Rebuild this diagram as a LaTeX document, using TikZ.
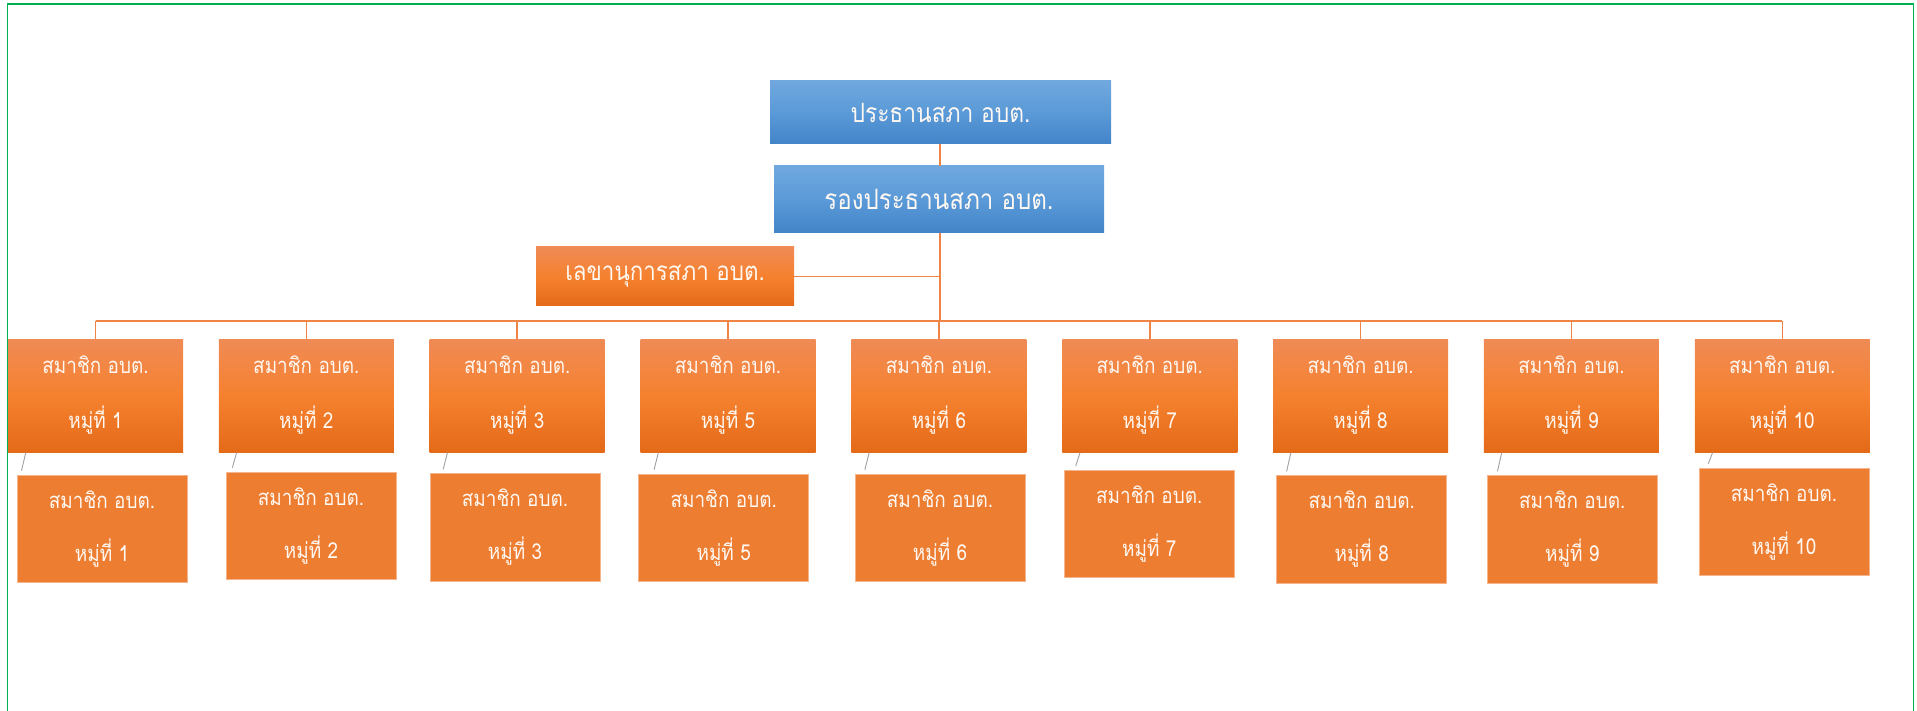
\documentclass[tikz,border=0pt]{standalone}
\usepackage{fontspec}
\newfontfamily\thaifont[Script=Thai, FakeStretch=0.86]{Loma}
\usetikzlibrary{calc}
\definecolor{blueT}{HTML}{70A8DE}
\definecolor{blueM}{HTML}{5A9AD8}
\definecolor{blueB}{HTML}{4384C8}
\definecolor{orT}{HTML}{F08B56}
\definecolor{orM}{HTML}{F5812F}
\definecolor{orB}{HTML}{E46A18}
\definecolor{orFlat}{HTML}{ED7D31}
\definecolor{orEdge}{HTML}{F6B48C}
\definecolor{connOr}{HTML}{EE8446}
\definecolor{frameGreen}{HTML}{00B050}
\definecolor{assistGray}{HTML}{A0A0A0}
\definecolor{txt}{HTML}{FFF8F2}
\begin{document}
\begin{tikzpicture}[x=1pt,y=-1pt,
  base/.style={rectangle, inner sep=0pt, outer sep=0pt, anchor=north west, text=txt, align=center},
  headbox/.style={base, top color=blueT, bottom color=blueB, middle color=blueM},
  secbox/.style={base, top color=orT, bottom color=orB, middle color=orM, font=\thaifont\fontsize{26}{30}\selectfont},
  memtop/.style={base, top color=orT, bottom color=orB, middle color=orM, minimum width=175pt, minimum height=113pt, font=\thaifont\fontsize{22}{55}\selectfont},
  membot/.style={base, fill=orFlat, draw=orEdge, line width=0.8pt, minimum width=170pt, minimum height=107.5pt, font=\thaifont\fontsize{22}{53}\selectfont},
  conn/.style={draw=connOr, line width=1.6pt},
  assist/.style={draw=assistGray, line width=0.9pt},
  frame/.style={draw=frameGreen, line width=1.6pt}
]
\useasboundingbox (0,0) rectangle (1917,711);
\draw[frame] (7.5,711) -- (7.5,4) -- (1913.5,4) -- (1913.5,711);

\node[headbox, minimum width=341pt, minimum height=63pt, font=\thaifont\fontsize{26.5}{30}\selectfont] (pres) at (770,81) {ประธานสภา อบต.};
\node[headbox, minimum width=330pt, minimum height=67pt, font=\thaifont\fontsize{28}{30}\selectfont] (vice) at (774,166) {รองประธานสภา อบต.};
\node[secbox, minimum width=258pt, minimum height=59pt] (sec) at (536,247) {เลขานุการสภา อบต.};
\coordinate (bus) at (940,321);

\draw[conn] (pres.south -| bus) -- (vice.north -| bus);
\draw[conn] (vice.south -| bus) -- (bus);
\draw[conn] (sec.east) -- (sec.east -| bus);

\foreach \k/\lab/\bx/\by in {0/1/17/475, 1/2/226/472, 2/3/430/473.7, 3/5/638.7/474, 4/6/855/474, 5/7/1064.3/470.3, 6/8/1276.7/475.7, 7/9/1487.3/475.7, 8/10/1699/468}{
  \node[memtop] (m\lab) at ({8+210.85*\k},339) {สมาชิก อบต.\\หมู่ที่ \lab};
  \node[membot] (s\lab) at (\bx,\by) {สมาชิก อบต.\\หมู่ที่ \lab};
  \draw[conn] (m\lab.north) -- (m\lab.north |- bus);
  \draw[assist] let \p1=(m\lab.south west), \p2=(s\lab.north) in (\x1+17.8pt,\y1-0.5pt) -- (\x1+13.5pt,\y2+4.3pt);
}
\draw[conn] (m1.north |- bus) -- (m10.north |- bus);
\end{tikzpicture}
\end{document}
